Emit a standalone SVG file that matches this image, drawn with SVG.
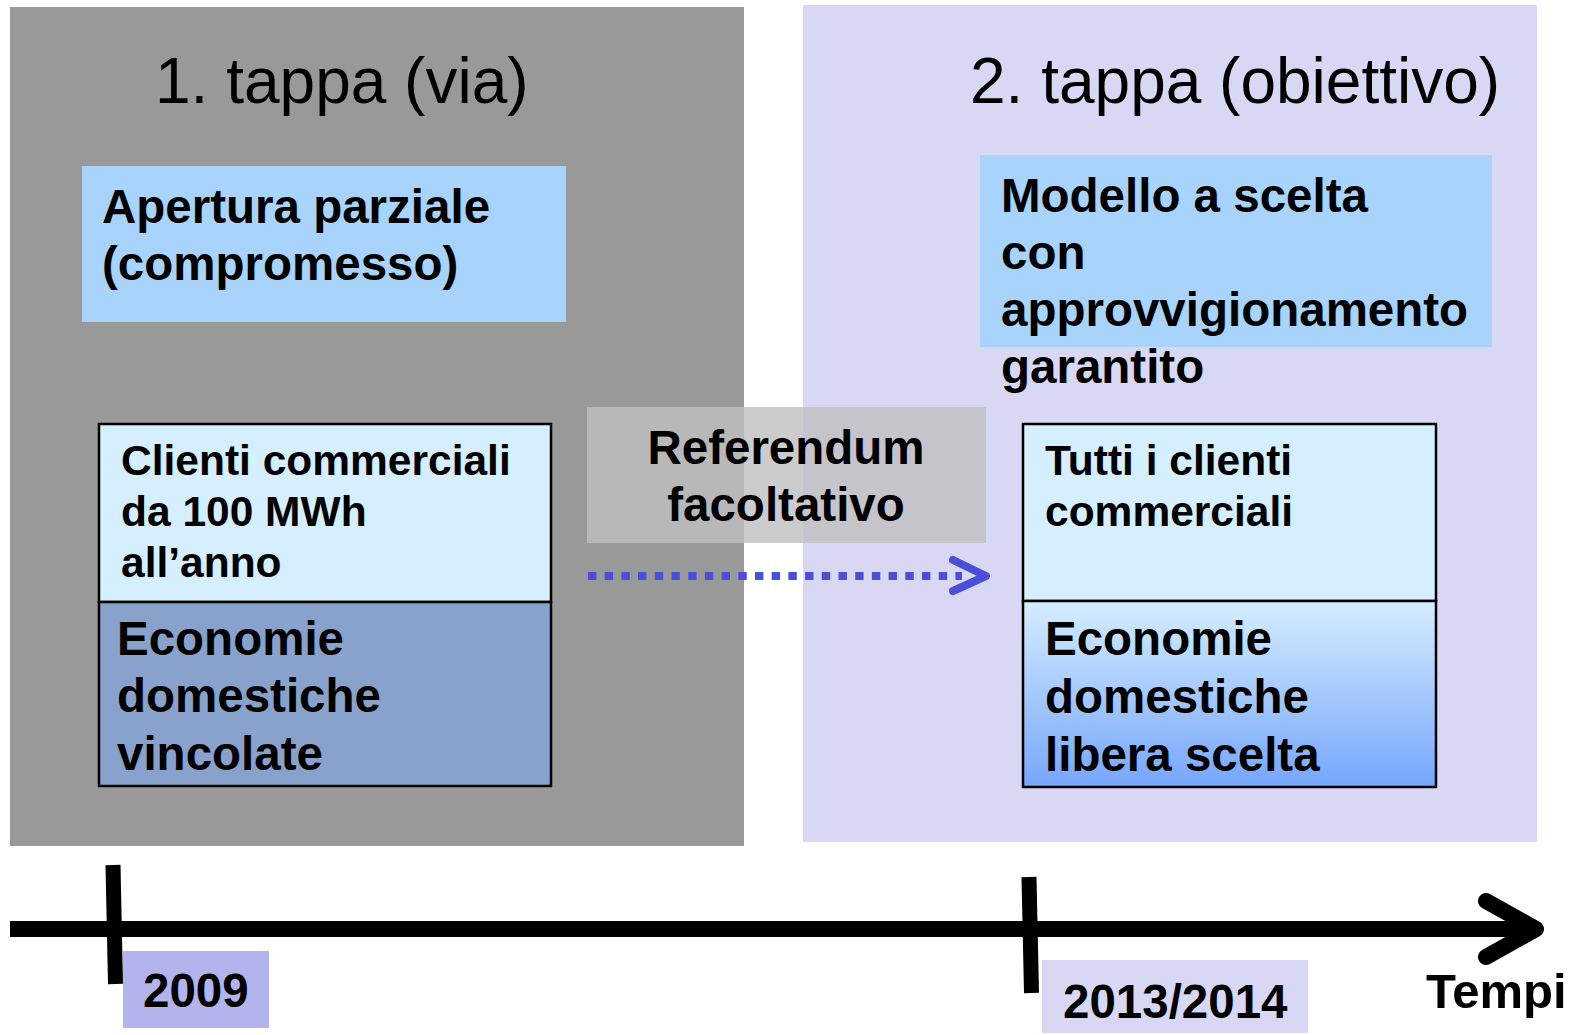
<svg xmlns="http://www.w3.org/2000/svg" width="1574" height="1035" viewBox="0 0 1574 1035">
<defs>
<style>
text{font-family:"Liberation Sans",Arial,sans-serif;fill:#000}
.title{font-size:64px}
.b47{font-size:47.5px;font-weight:bold}
.b42{font-size:42.5px;font-weight:bold}
.nb{stroke:#000;stroke-width:2.5}
</style>
<linearGradient id="gr" x1="0" y1="0" x2="0" y2="1">
<stop offset="0" stop-color="#d5edfe"/>
<stop offset="1" stop-color="#76a6fc"/>
</linearGradient>
</defs>
<rect width="1574" height="1035" fill="#fff"/>
<g id="phase1">
<rect x="10" y="7" width="734" height="839" fill="#999999"/>
<text class="title" x="155" y="103">1. tappa (via)</text>
</g>
<g id="phase2">
<rect x="803" y="5" width="734" height="837" fill="#d8d8f4"/>
<text class="title" x="970" y="103">2. tappa (obiettivo)</text>
</g>
<g id="apertura">
<rect x="82" y="166" width="484" height="156" fill="#a8d4fb"/>
<text class="b47"><tspan x="102" y="223">Apertura parziale</tspan><tspan x="102" y="280">(compromesso)</tspan></text>
</g>
<g id="modello">
<rect x="980" y="155" width="512" height="192" fill="#a8d4fb"/>
<text class="b47"><tspan x="1001" y="212">Modello a scelta</tspan><tspan x="1001" y="269">con</tspan><tspan x="1001" y="326">approvvigionamento</tspan><tspan x="1001" y="383">garantito</tspan></text>
</g>
<g id="node-left">
<rect class="nb" x="99" y="424" width="452" height="178" fill="#d5effe"/>
<rect class="nb" x="99" y="602" width="452" height="184" fill="#88a2cb"/>
<text class="b42"><tspan x="121" y="475">Clienti commerciali</tspan><tspan x="121" y="526">da 100 MWh</tspan><tspan x="121" y="577">all’anno</tspan></text>
<text class="b47"><tspan x="117" y="655">Economie</tspan><tspan x="117" y="712">domestiche</tspan><tspan x="117" y="770">vincolate</tspan></text>
</g>
<g id="node-right">
<rect class="nb" x="1023" y="424" width="413" height="177" fill="#d5effe"/>
<rect class="nb" x="1023" y="601" width="413" height="186" fill="url(#gr)"/>
<text class="b42"><tspan x="1045" y="475">Tutti i clienti</tspan><tspan x="1045" y="526">commerciali</tspan></text>
<text class="b47"><tspan x="1045" y="655">Economie</tspan><tspan x="1045" y="713">domestiche</tspan><tspan x="1045" y="771">libera scelta</tspan></text>
</g>
<g id="referendum">
<rect x="587" y="407" width="399" height="136" fill="#bfbfbf" fill-opacity="0.8"/>
<text class="b47" text-anchor="middle"><tspan x="786" y="464">Referendum</tspan><tspan x="786" y="521">facoltativo</tspan></text>
</g>
<g id="connectors">
<line x1="588" y1="576" x2="962" y2="576" stroke="#4a4ed8" stroke-width="8" stroke-dasharray="8.4 8.3"/>
<path d="M953,560 L986,576 L953,591" fill="none" stroke="#4a4ed8" stroke-width="8" stroke-linecap="round" stroke-linejoin="round"/>
</g>
<g id="timeline">
<line x1="10" y1="929" x2="1534" y2="929" stroke="#000" stroke-width="16"/>
<path d="M1486,901 L1536,929 L1486,957" fill="none" stroke="#000" stroke-width="16" stroke-linecap="round" stroke-linejoin="round"/>
<line x1="113" y1="865" x2="115.5" y2="984" stroke="#000" stroke-width="15"/>
<line x1="1029" y1="877" x2="1031.5" y2="993" stroke="#000" stroke-width="15"/>
</g>
<g id="label-2009">
<rect x="123" y="951" width="146" height="77" fill="#b4b4ec"/>
<text class="b47" x="143" y="1007">2009</text>
</g>
<g id="label-2013">
<rect x="1042" y="960" width="266" height="73" fill="#d8d8f4"/>
<text class="b47" x="1063" y="1018">2013/2014</text>
</g>
<g id="label-tempi">
<text class="b47" x="1426" y="1008" style="font-size:49px">Tempi</text>
</g>
</svg>
